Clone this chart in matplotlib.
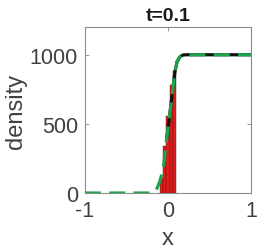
import matplotlib
matplotlib.use("Agg")
import matplotlib.pyplot as plt

# bars (histogram-like samples)
bar_x = [-0.08, -0.04, 0.0, 0.04, 0.08]
bar_h = [110, 340, 560, 780, 880]
bar_w = 0.04

# reference curve
curve_x = [-1.0, -0.3, -0.2, -0.16, -0.136, -0.1, -0.057, -0.016, 0.02,
           0.044, 0.084, 0.11, 0.145, 0.18, 0.22, 0.4, 1.0]
curve_y = [0, 0, 0, 8, 29, 80, 174, 391, 560,
           681, 877, 950, 986, 998, 1000, 1000, 1000]

# computed solution (only drawn where it is non-zero)
sol_x = [-0.016, 0.02, 0.044, 0.084, 0.11, 0.145, 0.18, 0.22, 0.4, 1.0]
sol_y = [391, 560, 681, 877, 950, 986, 998, 1000, 1000, 1000]

GREEN = "#1fa34f"
RED = "#e41c1c"
AXC = "#8c8c8c"
TXT = "#404040"

plt.rcParams["font.family"] = ["Liberation Sans", "DejaVu Sans"]

fig = plt.figure(figsize=(2.58, 2.51), dpi=100)
ax = fig.add_axes([0.329, 0.227, 0.644, 0.661])

ax.bar(bar_x, bar_h, width=bar_w, color=RED, edgecolor="#5a1515", linewidth=0.3, zorder=2)
ax.plot(sol_x, sol_y, color="#111111", lw=2.3, zorder=3)
ax.plot(curve_x, curve_y, color=GREEN, lw=2.3, dashes=(5, 2.6), zorder=4)

ax.set_xlim(-1, 1)
ax.set_ylim(0, 1200)
ax.set_xticks([-1, 0, 1])
ax.set_xticklabels(["-1", "0", "1"])
ax.set_yticks([0, 500, 1000])

for s in ax.spines.values():
    s.set_color(AXC)
    s.set_linewidth(0.8)
ax.tick_params(direction="in", length=3, width=0.6, color=AXC, labelcolor=TXT,
               labelsize=15.5, top=True, right=True)
ax.tick_params(axis="x", pad=5)
ax.tick_params(axis="y", pad=5)

ax.set_xlabel("x", fontsize=17, color=TXT, labelpad=4)
ax.set_ylabel("density", fontsize=17, color=TXT, labelpad=2)
ax.set_title("t=0.1", fontsize=14, fontweight="bold", color="#1a1a1a", pad=5)

fig.savefig("out.png", dpi=100)
